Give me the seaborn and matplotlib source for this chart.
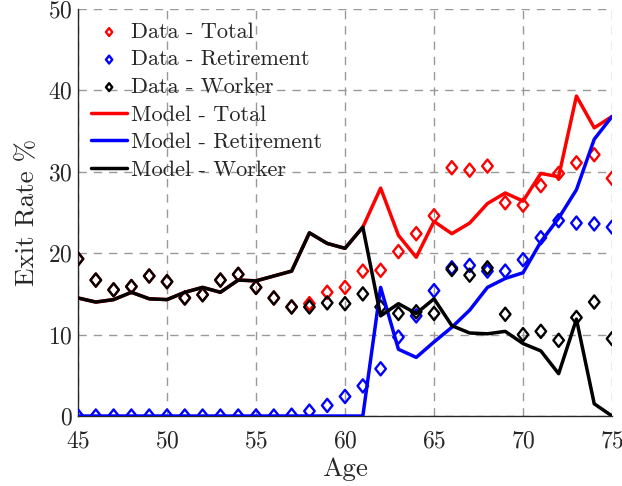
import numpy as np
import pandas as pd
import matplotlib
matplotlib.use("Agg")
import matplotlib.pyplot as plt
from matplotlib.path import Path
import seaborn as sns

ages = list(range(45, 76))

data_total = [19.3, 16.7, 15.5, 15.9, 17.2, 16.5, 14.5, 14.9, 16.7, 17.4, 15.8, 14.5, 13.4,
              13.8, 15.2, 15.8, 17.8, 17.9, 20.2, 22.4, 24.6, 30.5, 30.2, 30.7, 26.2, 25.9,
              28.3, 29.8, 31.1, 32.1, 29.2]
data_retire = [0, 0, 0, 0, 0, 0, 0, 0, 0, 0, 0, 0, 0.1,
               0.6, 1.3, 2.4, 3.7, 5.8, 9.7, 12.3, 15.4, 18.2, 18.5, 17.8, 17.8, 19.2,
               21.9, 24.0, 23.7, 23.6, 23.2]
data_worker = [19.3, 16.7, 15.5, 15.9, 17.2, 16.5, 14.5, 14.9, 16.7, 17.4, 15.8, 14.5, 13.4,
               13.4, 13.9, 13.8, 15.0, 13.4, 12.6, 12.8, 12.6, 18.0, 17.3, 18.2, 12.5, 10.0,
               10.4, 9.3, 12.1, 14.0, 9.5]
model_total = [14.5, 14.0, 14.3, 15.2, 14.4, 14.3, 15.2, 15.8, 15.2, 16.7, 16.6, 17.2, 17.8,
               22.5, 21.2, 20.6, 23.2, 28.0, 22.2, 19.5, 23.9, 22.4, 23.7, 26.1, 27.4, 26.4,
               29.8, 29.4, 39.3, 35.4, 36.8]
model_retire = [0, 0, 0, 0, 0, 0, 0, 0, 0, 0, 0, 0, 0,
                0, 0, 0, 0, 15.8, 8.2, 7.2, 9.1, 10.9, 13.0, 15.8, 16.9, 17.6,
                21.4, 24.3, 27.8, 34.0, 36.8]
model_worker = [14.5, 14.0, 14.3, 15.2, 14.4, 14.3, 15.2, 15.8, 15.2, 16.7, 16.6, 17.2, 17.8,
                22.5, 21.2, 20.6, 23.2, 12.3, 13.8, 12.6, 14.4, 11.1, 10.2, 10.1, 10.4, 8.9,
                8.0, 5.2, 11.9, 1.5, 0.0]

x_ticks = [45, 50, 55, 60, 65, 70, 75]
y_ticks = [0, 10, 20, 30, 40, 50]

sns.set_theme(style="white")
plt.rcParams["font.family"] = "serif"
plt.rcParams["font.serif"] = ["cmr10", "DejaVu Serif"]
plt.rcParams["mathtext.fontset"] = "cm"
plt.rcParams["axes.unicode_minus"] = False
plt.rcParams["axes.formatter.use_mathtext"] = True

diamond = Path([(0, 1), (0.8, 0), (0, -1), (-0.8, 0), (0, 1)],
               [Path.MOVETO, Path.LINETO, Path.LINETO, Path.LINETO, Path.CLOSEPOLY])

fig = plt.figure(figsize=(6.22, 4.86), dpi=100)
ax = fig.add_axes([0.1254, 0.144, 0.8586, 0.8375])

mk = dict(marker=diamond, s=90, facecolor="none", linewidth=1.7, zorder=3)
sns.scatterplot(x=ages, y=data_total, ax=ax, edgecolor="red", label="Data - Total", **mk)
sns.scatterplot(x=ages, y=data_retire, ax=ax, edgecolor="blue", label="Data - Retirement", **mk)
sns.scatterplot(x=ages, y=data_worker, ax=ax, edgecolor="black", label="Data - Worker", **mk)
sns.lineplot(x=ages, y=model_total, ax=ax, color="red", linewidth=2.5, label="Model - Total", zorder=4)
sns.lineplot(x=ages, y=model_retire, ax=ax, color="blue", linewidth=2.5, label="Model - Retirement", zorder=4)
sns.lineplot(x=ages, y=model_worker, ax=ax, color="black", linewidth=2.5, label="Model - Worker", zorder=4)

ax.set_xlim(45, 75)
ax.set_ylim(0, 50)
ax.set_xticks(x_ticks)
ax.set_yticks(y_ticks)
ax.tick_params(axis="both", labelsize=17, length=0, colors="#262626")
ax.tick_params(axis="x", pad=10)
ax.tick_params(axis="y", pad=4)
ax.grid(True, linestyle=(0, (6, 5)), color="#999999", linewidth=1.0)
ax.set_axisbelow(True)
for s in ["top", "right"]:
    ax.spines[s].set_visible(False)
for s in ["left", "bottom"]:
    ax.spines[s].set_color("#262626")
    ax.spines[s].set_linewidth(1.0)
ax.set_xlabel("Age", fontsize=19.5, color="#262626", labelpad=4)
ax.set_ylabel("Exit Rate %", fontsize=19.5, color="#262626", labelpad=6)

leg = ax.legend(loc="upper left", frameon=False, fontsize=16, handlelength=1.6,
                handletextpad=0.2, labelspacing=0.36, borderpad=0.3,
                borderaxespad=0.3, markerscale=0.6, bbox_to_anchor=(0.0, 1.0))

fig.savefig("out.png", dpi=100)
